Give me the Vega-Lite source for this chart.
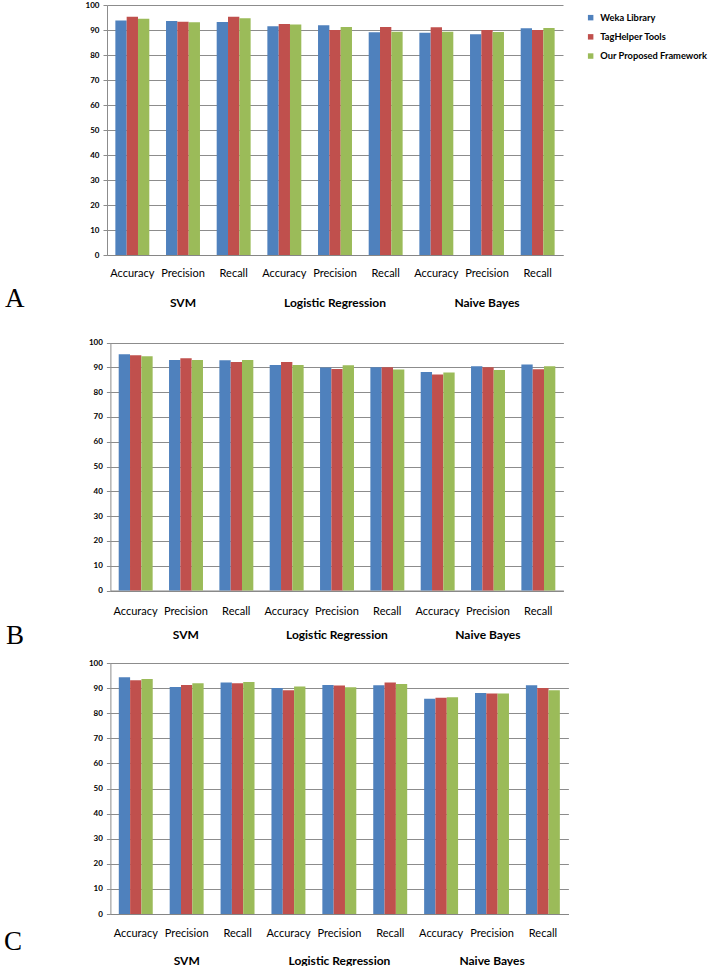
{
  "$schema": "https://vega.github.io/schema/vega-lite/v6.json",
  "padding": {"left": 3, "top": 1, "right": 0, "bottom": 0},
  "background": "white",
  "spacing": 10,
  "config": {
    "view": {"stroke": null},
    "font": "Lato",
    "axis": {"labelColor": "#000000", "titleColor": "#000000"}
  },
  "data": {"values": [
    {"panel":"A","model":"SVM","metric":"Accuracy","series":"Weka Library","value":93.8},
    {"panel":"A","model":"SVM","metric":"Accuracy","series":"TagHelper Tools","value":95.3},
    {"panel":"A","model":"SVM","metric":"Accuracy","series":"Our Proposed Framework","value":94.5},
    {"panel":"A","model":"SVM","metric":"Precision","series":"Weka Library","value":93.6},
    {"panel":"A","model":"SVM","metric":"Precision","series":"TagHelper Tools","value":93.3},
    {"panel":"A","model":"SVM","metric":"Precision","series":"Our Proposed Framework","value":93.1},
    {"panel":"A","model":"SVM","metric":"Recall","series":"Weka Library","value":93.2},
    {"panel":"A","model":"SVM","metric":"Recall","series":"TagHelper Tools","value":95.3},
    {"panel":"A","model":"SVM","metric":"Recall","series":"Our Proposed Framework","value":94.7},
    {"panel":"A","model":"Logistic Regression","metric":"Accuracy","series":"Weka Library","value":91.5},
    {"panel":"A","model":"Logistic Regression","metric":"Accuracy","series":"TagHelper Tools","value":92.4},
    {"panel":"A","model":"Logistic Regression","metric":"Accuracy","series":"Our Proposed Framework","value":92.2},
    {"panel":"A","model":"Logistic Regression","metric":"Precision","series":"Weka Library","value":91.9},
    {"panel":"A","model":"Logistic Regression","metric":"Precision","series":"TagHelper Tools","value":90.0},
    {"panel":"A","model":"Logistic Regression","metric":"Precision","series":"Our Proposed Framework","value":91.2},
    {"panel":"A","model":"Logistic Regression","metric":"Recall","series":"Weka Library","value":89.1},
    {"panel":"A","model":"Logistic Regression","metric":"Recall","series":"TagHelper Tools","value":91.2},
    {"panel":"A","model":"Logistic Regression","metric":"Recall","series":"Our Proposed Framework","value":89.3},
    {"panel":"A","model":"Naive Bayes","metric":"Accuracy","series":"Weka Library","value":88.9},
    {"panel":"A","model":"Naive Bayes","metric":"Accuracy","series":"TagHelper Tools","value":91.1},
    {"panel":"A","model":"Naive Bayes","metric":"Accuracy","series":"Our Proposed Framework","value":89.3},
    {"panel":"A","model":"Naive Bayes","metric":"Precision","series":"Weka Library","value":88.3},
    {"panel":"A","model":"Naive Bayes","metric":"Precision","series":"TagHelper Tools","value":90.0},
    {"panel":"A","model":"Naive Bayes","metric":"Precision","series":"Our Proposed Framework","value":89.2},
    {"panel":"A","model":"Naive Bayes","metric":"Recall","series":"Weka Library","value":90.7},
    {"panel":"A","model":"Naive Bayes","metric":"Recall","series":"TagHelper Tools","value":90.0},
    {"panel":"A","model":"Naive Bayes","metric":"Recall","series":"Our Proposed Framework","value":90.8},
    {"panel":"B","model":"SVM","metric":"Accuracy","series":"Weka Library","value":95.3},
    {"panel":"B","model":"SVM","metric":"Accuracy","series":"TagHelper Tools","value":94.9},
    {"panel":"B","model":"SVM","metric":"Accuracy","series":"Our Proposed Framework","value":94.5},
    {"panel":"B","model":"SVM","metric":"Precision","series":"Weka Library","value":92.9},
    {"panel":"B","model":"SVM","metric":"Precision","series":"TagHelper Tools","value":93.6},
    {"panel":"B","model":"SVM","metric":"Precision","series":"Our Proposed Framework","value":92.9},
    {"panel":"B","model":"SVM","metric":"Recall","series":"Weka Library","value":92.8},
    {"panel":"B","model":"SVM","metric":"Recall","series":"TagHelper Tools","value":92.1},
    {"panel":"B","model":"SVM","metric":"Recall","series":"Our Proposed Framework","value":92.9},
    {"panel":"B","model":"Logistic Regression","metric":"Accuracy","series":"Weka Library","value":90.9},
    {"panel":"B","model":"Logistic Regression","metric":"Accuracy","series":"TagHelper Tools","value":92.1},
    {"panel":"B","model":"Logistic Regression","metric":"Accuracy","series":"Our Proposed Framework","value":90.9},
    {"panel":"B","model":"Logistic Regression","metric":"Precision","series":"Weka Library","value":89.9},
    {"panel":"B","model":"Logistic Regression","metric":"Precision","series":"TagHelper Tools","value":89.3},
    {"panel":"B","model":"Logistic Regression","metric":"Precision","series":"Our Proposed Framework","value":90.8},
    {"panel":"B","model":"Logistic Regression","metric":"Recall","series":"Weka Library","value":90.0},
    {"panel":"B","model":"Logistic Regression","metric":"Recall","series":"TagHelper Tools","value":90.0},
    {"panel":"B","model":"Logistic Regression","metric":"Recall","series":"Our Proposed Framework","value":89.1},
    {"panel":"B","model":"Naive Bayes","metric":"Accuracy","series":"Weka Library","value":88.1},
    {"panel":"B","model":"Naive Bayes","metric":"Accuracy","series":"TagHelper Tools","value":87.1},
    {"panel":"B","model":"Naive Bayes","metric":"Accuracy","series":"Our Proposed Framework","value":87.9},
    {"panel":"B","model":"Naive Bayes","metric":"Precision","series":"Weka Library","value":90.4},
    {"panel":"B","model":"Naive Bayes","metric":"Precision","series":"TagHelper Tools","value":90.0},
    {"panel":"B","model":"Naive Bayes","metric":"Precision","series":"Our Proposed Framework","value":88.9},
    {"panel":"B","model":"Naive Bayes","metric":"Recall","series":"Weka Library","value":91.1},
    {"panel":"B","model":"Naive Bayes","metric":"Recall","series":"TagHelper Tools","value":89.2},
    {"panel":"B","model":"Naive Bayes","metric":"Recall","series":"Our Proposed Framework","value":90.4},
    {"panel":"C","model":"SVM","metric":"Accuracy","series":"Weka Library","value":94.3},
    {"panel":"C","model":"SVM","metric":"Accuracy","series":"TagHelper Tools","value":93.1},
    {"panel":"C","model":"SVM","metric":"Accuracy","series":"Our Proposed Framework","value":93.6},
    {"panel":"C","model":"SVM","metric":"Precision","series":"Weka Library","value":90.4},
    {"panel":"C","model":"SVM","metric":"Precision","series":"TagHelper Tools","value":91.2},
    {"panel":"C","model":"SVM","metric":"Precision","series":"Our Proposed Framework","value":91.9},
    {"panel":"C","model":"SVM","metric":"Recall","series":"Weka Library","value":92.2},
    {"panel":"C","model":"SVM","metric":"Recall","series":"TagHelper Tools","value":91.9},
    {"panel":"C","model":"SVM","metric":"Recall","series":"Our Proposed Framework","value":92.4},
    {"panel":"C","model":"Logistic Regression","metric":"Accuracy","series":"Weka Library","value":90.0},
    {"panel":"C","model":"Logistic Regression","metric":"Accuracy","series":"TagHelper Tools","value":89.1},
    {"panel":"C","model":"Logistic Regression","metric":"Accuracy","series":"Our Proposed Framework","value":90.6},
    {"panel":"C","model":"Logistic Regression","metric":"Precision","series":"Weka Library","value":91.2},
    {"panel":"C","model":"Logistic Regression","metric":"Precision","series":"TagHelper Tools","value":91.0},
    {"panel":"C","model":"Logistic Regression","metric":"Precision","series":"Our Proposed Framework","value":90.3},
    {"panel":"C","model":"Logistic Regression","metric":"Recall","series":"Weka Library","value":91.1},
    {"panel":"C","model":"Logistic Regression","metric":"Recall","series":"TagHelper Tools","value":92.2},
    {"panel":"C","model":"Logistic Regression","metric":"Recall","series":"Our Proposed Framework","value":91.6},
    {"panel":"C","model":"Naive Bayes","metric":"Accuracy","series":"Weka Library","value":85.8},
    {"panel":"C","model":"Naive Bayes","metric":"Accuracy","series":"TagHelper Tools","value":86.2},
    {"panel":"C","model":"Naive Bayes","metric":"Accuracy","series":"Our Proposed Framework","value":86.4},
    {"panel":"C","model":"Naive Bayes","metric":"Precision","series":"Weka Library","value":88.0},
    {"panel":"C","model":"Naive Bayes","metric":"Precision","series":"TagHelper Tools","value":87.8},
    {"panel":"C","model":"Naive Bayes","metric":"Precision","series":"Our Proposed Framework","value":87.8},
    {"panel":"C","model":"Naive Bayes","metric":"Recall","series":"Weka Library","value":91.1},
    {"panel":"C","model":"Naive Bayes","metric":"Recall","series":"TagHelper Tools","value":90.0},
    {"panel":"C","model":"Naive Bayes","metric":"Recall","series":"Our Proposed Framework","value":89.1}
  ]},
  "transform": [{"calculate": "datum.model + '|' + datum.metric", "as": "cat"}],
  "vconcat": [
    {
      "width": 456, "height": 250,
      "transform": [{"filter": "datum.panel == 'A'"}],
      "layer": [
        {
          "mark": {"type": "bar"},
          "encoding": {
            "x": {"field": "cat", "type": "nominal", "sort": null,
              "scale": {"paddingInner": 0.33, "paddingOuter": 0.165},
              "axis": {"title": null, "labelExpr": "split(datum.label, '|')[1]", "labelAngle": 0, "ticks": false, "tickSize": 0, "labelPadding": 18, "labelBaseline": "middle", "labelFontSize": 11, "domainColor": "#868686", "grid": false}},
            "xOffset": {"field": "series", "type": "nominal", "sort": ["Weka Library", "TagHelper Tools", "Our Proposed Framework"]},
            "y": {"field": "value", "type": "quantitative", "scale": {"domain": [0, 100]},
              "axis": {"title": "A", "values": [0,10,20,30,40,50,60,70,80,90,100], "grid": true, "gridColor": "#8c8c8c", "domainColor": "#8c8c8c", "tickColor": "#8c8c8c", "tickSize": 4, "labelPadding": 4, "labelFontSize": 8, "labelFontWeight": "bold", "titleFont": "Liberation Serif", "titleFontSize": 27, "titleFontWeight": "normal", "titleAngle": 0, "titleAlign": "left", "titleBaseline": "middle", "titleX": -102.6, "titleY": 293}},
            "color": {"field": "series", "type": "nominal",
              "scale": {"domain": ["Weka Library", "TagHelper Tools", "Our Proposed Framework"], "range": ["#4F81BD", "#C0504D", "#9BBB59"]},
              "legend": {"title": null, "orient": "none", "legendX": 479, "legendY": 8, "symbolType": "square", "symbolSize": 30, "symbolStrokeWidth": 0, "labelFontSize": 9.3, "labelFontWeight": "bold", "labelColor": "#000000", "labelOffset": 5, "labelLimit": 200, "rowPadding": 9.2}}
          }
        },
        {
          "mark": {"type": "bar", "opacity": 0},
          "encoding": {
            "x": {"field": "model", "type": "nominal", "sort": ["SVM", "Logistic Regression", "Naive Bayes"],
              "scale": {"padding": 0},
              "axis": {"orient": "bottom", "title": null, "domain": false, "ticks": false, "tickSize": 0, "grid": false, "labelAngle": 0, "labelPadding": 47, "labelBaseline": "middle", "labelFontSize": 12, "labelFontWeight": "bold"}}
          }
        }
      ],
      "resolve": {"scale": {"x": "independent"}}
    },
    {
      "width": 456.4, "height": 269.5,
      "transform": [{"filter": "datum.panel == 'B'"}],
      "layer": [
        {
          "mark": {"type": "bar"},
          "encoding": {
            "x": {"field": "cat", "type": "nominal", "sort": null,
              "scale": {"paddingInner": 0.33, "paddingOuter": 0.165, "range": [3.4, 456.4]},
              "axis": {"title": null, "labelExpr": "split(datum.label, '|')[1]", "labelAngle": 0, "ticks": false, "tickSize": 0, "labelPadding": 21, "labelBaseline": "middle", "labelFontSize": 11, "domainColor": "#868686", "grid": false}},
            "xOffset": {"field": "series", "type": "nominal", "sort": ["Weka Library", "TagHelper Tools", "Our Proposed Framework"]},
            "y": {"field": "value", "type": "quantitative", "scale": {"domain": [0, 100], "range": [269.5, 21.5]},
              "axis": {"title": "B", "offset": -3.4, "values": [0,10,20,30,40,50,60,70,80,90,100], "grid": true, "gridColor": "#8c8c8c", "domainColor": "#8c8c8c", "tickColor": "#8c8c8c", "tickSize": 4, "labelPadding": 4, "labelFontSize": 8, "labelFontWeight": "bold", "titleFont": "Liberation Serif", "titleFontSize": 27, "titleFontWeight": "normal", "titleAngle": 0, "titleAlign": "left", "titleBaseline": "middle", "titleX": -105, "titleY": 314.5}},
            "color": {"field": "series", "type": "nominal",
              "scale": {"domain": ["Weka Library", "TagHelper Tools", "Our Proposed Framework"], "range": ["#4F81BD", "#C0504D", "#9BBB59"]}}
          }
        },
        {
          "mark": {"type": "bar", "opacity": 0},
          "encoding": {
            "x": {"field": "model", "type": "nominal", "sort": ["SVM", "Logistic Regression", "Naive Bayes"],
              "scale": {"padding": 0, "range": [3.4, 456.4]},
              "axis": {"orient": "bottom", "title": null, "domain": false, "ticks": false, "tickSize": 0, "grid": false, "labelAngle": 0, "labelPadding": 44, "labelBaseline": "middle", "labelFontSize": 12, "labelFontWeight": "bold"}}
          }
        }
      ],
      "resolve": {"scale": {"x": "independent"}}
    },
    {
      "width": 461.4, "height": 255,
      "transform": [{"filter": "datum.panel == 'C'"}],
      "layer": [
        {
          "mark": {"type": "bar"},
          "encoding": {
            "x": {"field": "cat", "type": "nominal", "sort": null,
              "scale": {"paddingInner": 0.33, "paddingOuter": 0.165, "range": [3.4, 461.4]},
              "axis": {"title": null, "labelExpr": "split(datum.label, '|')[1]", "labelAngle": 0, "ticks": false, "tickSize": 0, "labelPadding": 19, "labelBaseline": "middle", "labelFontSize": 11, "domainColor": "#868686", "grid": false}},
            "xOffset": {"field": "series", "type": "nominal", "sort": ["Weka Library", "TagHelper Tools", "Our Proposed Framework"]},
            "y": {"field": "value", "type": "quantitative", "scale": {"domain": [0, 100], "range": [255, 4]},
              "axis": {"title": "C", "offset": -3.4, "values": [0,10,20,30,40,50,60,70,80,90,100], "grid": true, "gridColor": "#8c8c8c", "domainColor": "#8c8c8c", "tickColor": "#8c8c8c", "tickSize": 4, "labelPadding": 4, "labelFontSize": 8, "labelFontWeight": "bold", "titleFont": "Liberation Serif", "titleFontSize": 27, "titleFontWeight": "normal", "titleAngle": 0, "titleAlign": "left", "titleBaseline": "middle", "titleX": -107, "titleY": 282}},
            "color": {"field": "series", "type": "nominal",
              "scale": {"domain": ["Weka Library", "TagHelper Tools", "Our Proposed Framework"], "range": ["#4F81BD", "#C0504D", "#9BBB59"]}}
          }
        },
        {
          "mark": {"type": "bar", "opacity": 0},
          "encoding": {
            "x": {"field": "model", "type": "nominal", "sort": ["SVM", "Logistic Regression", "Naive Bayes"],
              "scale": {"padding": 0, "range": [3.4, 461.4]},
              "axis": {"orient": "bottom", "title": null, "domain": false, "ticks": false, "tickSize": 0, "grid": false, "labelAngle": 0, "labelPadding": 46, "labelBaseline": "middle", "labelFontSize": 12, "labelFontWeight": "bold"}}
          }
        }
      ],
      "resolve": {"scale": {"x": "independent"}}
    }
  ]
}
